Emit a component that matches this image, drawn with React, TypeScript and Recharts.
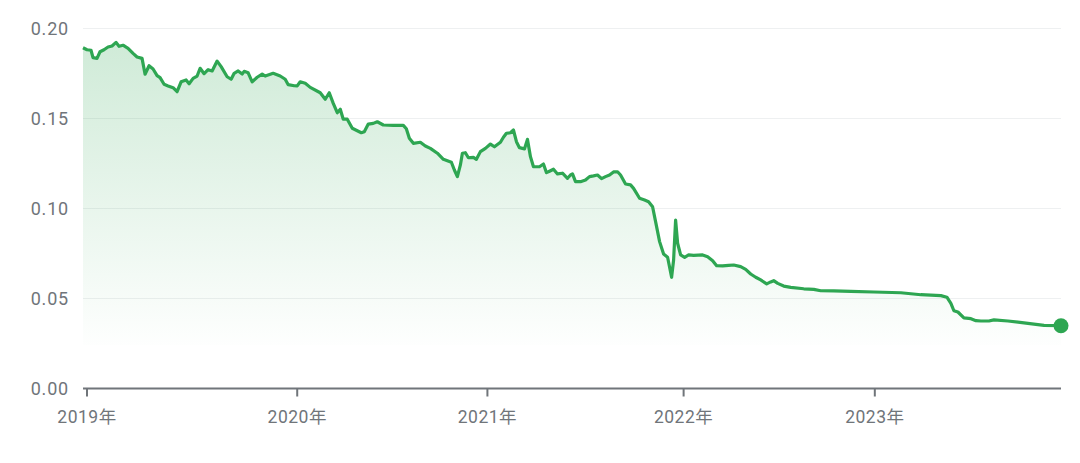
import { AreaChart, Area, XAxis, YAxis, CartesianGrid } from "recharts";

// session index along the x axis (one step per plotted sample)
const idx = [
  0, 4, 8, 10, 14, 17, 21, 25, 29, 33, 36, 40, 45, 50, 54, 59, 62, 66, 70, 74,
  77, 81, 85, 90, 94, 98, 103, 106, 110, 114, 117, 121, 125, 129, 134, 138, 144, 148, 151, 155,
  159, 161, 165, 169, 174, 179, 182, 190, 197, 202, 205, 211, 214, 217, 222, 227, 237, 242, 246, 250,
  254, 257, 260, 264, 269, 278, 281, 285, 290, 294, 300, 310, 320, 323, 326, 330, 337, 342, 347, 354,
  360, 368, 371, 374, 377, 379, 382, 385, 390, 393, 397, 402, 407, 411, 417, 420, 423, 427, 430, 433,
  436, 441, 444, 447, 450, 456, 460, 463, 466, 470, 474, 479, 484, 487, 489, 492, 497, 502, 506, 510,
  514, 518, 522, 526, 530, 534, 537, 542, 547, 550, 556, 561, 565, 569, 572, 576, 580, 584, 588, 590,
  592, 594, 597, 601, 605, 610, 619, 624, 629, 633, 639, 645, 650, 657, 662, 667, 672, 677, 683, 687,
  690, 694, 700, 707, 720, 730, 737, 750, 767, 790, 817, 837, 857, 863, 867, 870, 874, 880, 887, 892,
  897, 905, 910, 924, 944, 960, 977,
];

const rate = [
  0.1893, 0.1882, 0.1879, 0.1838, 0.1834, 0.1871, 0.1882, 0.1897, 0.1903, 0.1923,
  0.1901, 0.1907, 0.189, 0.1862, 0.1842, 0.1834, 0.1746, 0.1793, 0.1775, 0.1738,
  0.1727, 0.169, 0.1681, 0.1671, 0.1649, 0.1704, 0.1714, 0.1693, 0.1723, 0.1736,
  0.1779, 0.1749, 0.1771, 0.1764, 0.1819, 0.1788, 0.1732, 0.1718, 0.1751, 0.1764,
  0.1747, 0.1762, 0.1754, 0.1704, 0.1729, 0.1747, 0.1736, 0.1751, 0.1736, 0.1718,
  0.1688, 0.1682, 0.1681, 0.1704, 0.1696, 0.1673, 0.1643, 0.1607, 0.1643, 0.1584,
  0.1532, 0.1551, 0.1496, 0.1496, 0.1446, 0.1421, 0.1427, 0.1469, 0.1473, 0.1482,
  0.1464, 0.1462, 0.1462, 0.1443, 0.139, 0.1362, 0.1368, 0.1347, 0.1334, 0.1307,
  0.1273, 0.1257, 0.1214, 0.1177, 0.1242, 0.1307, 0.131, 0.1282, 0.1284, 0.1273,
  0.1316, 0.1334, 0.1358, 0.1343, 0.1368, 0.1396, 0.1418, 0.1421, 0.1436, 0.1371,
  0.1338, 0.1331, 0.1384, 0.1288, 0.1232, 0.1232, 0.1247, 0.1199, 0.1207, 0.1218,
  0.1192, 0.1196, 0.1168, 0.1186, 0.1192, 0.1149, 0.1149, 0.1158, 0.1177, 0.1181,
  0.1186, 0.1166, 0.1177, 0.1186, 0.1203, 0.1204, 0.1186, 0.1136, 0.1131, 0.1112,
  0.1057, 0.1047, 0.1038, 0.101, 0.0927, 0.0816, 0.0747, 0.0729, 0.0618, 0.0714,
  0.0936, 0.0807, 0.0742, 0.0729, 0.0742, 0.074, 0.0742, 0.0732, 0.071, 0.0682,
  0.0681, 0.0684, 0.0686, 0.0677, 0.0662, 0.0636, 0.0618, 0.0603, 0.0581, 0.0592,
  0.0599, 0.0584, 0.0569, 0.0562, 0.0554, 0.0551, 0.0543, 0.0542, 0.054, 0.0536,
  0.0532, 0.0521, 0.0516, 0.0507, 0.0473, 0.0432, 0.0425, 0.0392, 0.0388, 0.0377,
  0.0375, 0.0375, 0.0381, 0.0375, 0.0362, 0.0351, 0.0349,
];

const yearTicks = [4, 214, 404, 600, 791];
const yearLabels = ["2019年", "2020年", "2021年", "2022年", "2023年"];
const yTicks = [0, 0.05, 0.1, 0.15, 0.2];

const data = idx.map((x, i) => ({ x, v: rate[i] }));
const last = data.length - 1;

const GREEN = "#2ea652";
const TEXT = "#70757a";
const FONT = "Roboto, 'Noto Sans CJK SC', sans-serif";

export default function App() {
  return (
    <div style={{ position: "absolute", left: 0, top: 0, width: 1080, height: 463, background: "#fff" }}>
      <AreaChart width={1080} height={463} data={data} margin={{ top: 28.5, right: 19, left: 0, bottom: 44.5 }}>
        <defs>
          <linearGradient id="fade" x1="0" y1="0" x2="0" y2="1">
            <stop offset="0%" stopColor={GREEN} stopOpacity={0.38} />
            <stop offset="100%" stopColor={GREEN} stopOpacity={0.01} />
          </linearGradient>
        </defs>
        <CartesianGrid vertical={false} stroke="#eef0f1" />
        <XAxis
          dataKey="x"
          type="number"
          domain={[0, 977]}
          ticks={yearTicks}
          tickFormatter={(v) => yearLabels[yearTicks.indexOf(v)] ?? ""}
          height={30}
          stroke="#70757a"
          strokeWidth={2}
          tickSize={8}
          tickMargin={14}
          tick={{ fill: TEXT, fontSize: 17.5, fontFamily: FONT, letterSpacing: 0.5 }}
          interval={0}
        />
        <YAxis
          domain={[0, 0.2]}
          ticks={yTicks}
          tickFormatter={(v) => v.toFixed(2)}
          width={83}
          axisLine={false}
          tickLine={false}
          tickSize={6}
          tickMargin={8}
          tick={{ fill: TEXT, fontSize: 18, fontFamily: FONT, letterSpacing: 0.8 }}
        />
        <Area
          type="linear"
          dataKey="v"
          baseValue={0.024}
          stroke={GREEN}
          strokeWidth={3.2}
          strokeLinejoin="round"
          fill="url(#fade)"
          isAnimationActive={false}
          dot={(p: any) =>
            p.index === last ? (
              <circle key="end" cx={p.cx} cy={p.cy} r={7.5} fill={GREEN} />
            ) : (
              <g key={p.index} />
            )
          }
          activeDot={false}
        />
      </AreaChart>
    </div>
  );
}
